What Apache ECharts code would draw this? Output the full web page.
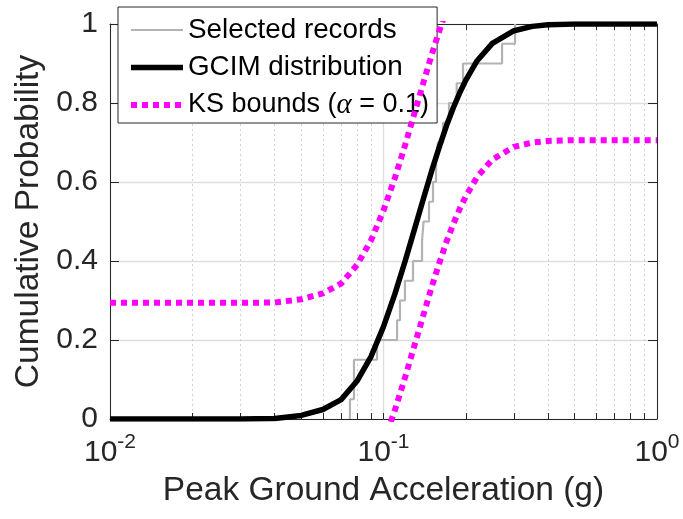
<!DOCTYPE html>
<html><head><meta charset="utf-8">
<script src="https://cdn.jsdelivr.net/npm/echarts@6/dist/echarts.min.js"></script>
<style>html,body{margin:0;padding:0;background:#fff}#c{width:683px;height:519px}</style>
</head><body><div id="c"></div>
<script>
// ---- data ----
const gcimX = [0.01,0.02,0.03,0.04,0.05,0.06,0.07,0.08,0.09,0.10,0.11,0.12,0.13,0.14,0.15,0.16,0.17,0.18,0.19,0.20,0.22,0.25,0.30,0.35,0.40,0.50,0.60,0.70,0.80,0.90,1.00];
const gcimY = [0,0,0.0001,0.001,0.009,0.024,0.049,0.096,0.158,0.234,0.316,0.400,0.482,0.558,0.628,0.689,0.743,0.788,0.826,0.858,0.907,0.951,0.983,0.994,0.998,0.9997,1,1,1,1,1];
const ksUpperX = [0.01,0.02,0.03,0.04,0.05,0.06,0.07,0.08,0.09,0.10,0.11,0.12,0.13,0.14,0.15,0.16,0.17];
const ksUpperY = [0.294,0.294,0.294,0.295,0.303,0.318,0.343,0.390,0.452,0.528,0.610,0.694,0.776,0.852,0.922,0.983,1.037];
const ksLowerX = [0.10,0.11,0.12,0.13,0.14,0.15,0.16,0.17,0.18,0.19,0.20,0.22,0.25,0.30,0.35,0.40,0.50,0.60,0.70,0.80,0.90,1.00];
const ksLowerY = [-0.060,0.022,0.106,0.188,0.264,0.334,0.395,0.449,0.494,0.532,0.564,0.613,0.657,0.689,0.700,0.704,0.706,0.706,0.706,0.706,0.706,0.706];
const recordPGA = [0.0754,0.078,0.078,0.0947,0.1121,0.1149,0.1198,0.1282,0.1383,0.1401,0.1467,0.1517,0.1556,0.1582,0.165,0.1736,0.1852,0.1953,0.2713,0.3027];
const xMajorTicks = [0.01,0.1,1];
const xMinorTicks = [0.01,0.02,0.03,0.04,0.05,0.06,0.07,0.08,0.09,0.1,0.2,0.3,0.4,0.5,0.6,0.7,0.8,0.9,1];
const yTicks = [0,0.2,0.4,0.6,0.8,1];
const names = ['Selected records','GCIM distribution','KS bounds (α = 0.1)'];

// ---- build ----
const zip = (a,b) => a.map((v,i)=>[v,b[i]]);
const n = recordPGA.length;
const stairs = [];
recordPGA.forEach((x,i)=>{ stairs.push([x,i/n]); stairs.push([x,(i+1)/n]); });

const FF = '"Liberation Sans", Arial, Helvetica, sans-serif';
const AX = '#262626';
const styles = [
  {color:'#b3b3b3',width:2.2,type:'solid'},
  {color:'#000000',width:5.5,type:'solid'},
  {color:'#ff00ff',width:6,type:[6,5],cap:'butt'}
];
const hidden = {color:'rgba(0,0,0,0)',borderWidth:0,opacity:0};
const chart = echarts.init(document.getElementById('c'), null, {renderer:'canvas'});
const xBase = {type:'log', logBase:10, min:0.01, max:1, gridIndex:0};
chart.setOption({
  animation:false,
  backgroundColor:'#fff',
  grid:{left:110,right:26,top:24,bottom:100,containLabel:false},
  xAxis:[
    Object.assign({}, xBase, {
      position:'bottom',
      name:'Peak Ground Acceleration (g)', nameLocation:'middle', nameGap:55,
      nameTextStyle:{fontFamily:FF,fontSize:33.5,color:AX},
      axisLine:{show:true,onZero:false,lineStyle:{color:AX,width:1}},
      axisTick:{show:true,inside:true,length:6,customValues:xMinorTicks,lineStyle:{color:AX}},
      axisLabel:{show:true,margin:13,customValues:xMajorTicks,fontFamily:FF,color:AX,
        formatter:v=>'{b|10}{s|'+Math.round(Math.log10(v))+'}',
        rich:{b:{fontFamily:FF,fontSize:30,color:AX,lineHeight:36,verticalAlign:'bottom'},
              s:{fontFamily:FF,fontSize:21,color:AX,lineHeight:36,verticalAlign:'top'}}},
      splitLine:{show:true,lineStyle:{color:'#d2d2d2',width:1,type:[2,3]}}
    }),
    Object.assign({}, xBase, {
      position:'top',
      axisLine:{show:true,onZero:false,lineStyle:{color:AX,width:1}},
      axisTick:{show:true,inside:true,length:6,customValues:xMinorTicks,lineStyle:{color:AX}},
      axisLabel:{show:false},
      splitLine:{show:false}
    }),
    Object.assign({}, xBase, {
      position:'bottom',
      axisLine:{show:false},
      axisTick:{show:false,customValues:xMajorTicks},
      axisLabel:{show:false},
      splitLine:{show:true,lineStyle:{color:'#dedede',width:1.3,type:'solid'}}
    })
  ],
  yAxis:[
    {type:'value',min:0,max:1,interval:0.2,position:'left',
      name:'Cumulative Probability',nameLocation:'middle',nameGap:61,
      nameTextStyle:{fontFamily:FF,fontSize:33.5,color:AX},
      axisLine:{show:true,onZero:false,lineStyle:{color:AX,width:1}},
      axisTick:{show:true,inside:true,length:9,lineStyle:{color:AX}},
      axisLabel:{show:true,margin:12,fontFamily:FF,fontSize:30,color:AX,
        formatter:v=>{const t=yTicks.find(k=>Math.abs(k-v)<1e-9);return t===undefined?'':String(t);}},
      splitLine:{show:true,lineStyle:{color:'#dedede',width:1.3}}
    },
    {type:'value',min:0,max:1,interval:0.2,position:'right',
      axisLine:{show:true,onZero:false,lineStyle:{color:AX,width:1}},
      axisTick:{show:true,inside:true,length:9,lineStyle:{color:AX}},
      axisLabel:{show:false},splitLine:{show:false}
    }
  ],
  legend:{
    orient:'vertical',left:118,top:7,
    itemWidth:52,itemHeight:20,itemGap:7.5,
    padding:[8,8,3,10],
    backgroundColor:'#fff',borderColor:AX,borderWidth:1,borderRadius:0,
    selectedMode:false,
    itemStyle:hidden,
    data:names.map((nm,i)=>({name:nm,itemStyle:hidden,lineStyle:styles[i]})),
    textStyle:{fontFamily:FF,fontSize:27.8,color:'#000',lineHeight:30,
      rich:{
        k:{fontFamily:FF,fontSize:27,color:'#000',lineHeight:30},
        a:{fontFamily:'"Liberation Serif", serif',fontStyle:'italic',fontSize:29,color:'#000',lineHeight:30}}},
    formatter:name=>name.indexOf('KS')===0?'{k|KS bounds (}{a|α}{k| = 0.1)}':name
  },
  series:[
    {name:names[0],type:'line',data:stairs,symbol:'none',showSymbol:false,
      lineStyle:styles[0],itemStyle:{color:'#b3b3b3'},z:2},
    {name:names[1],type:'line',data:zip(gcimX,gcimY),symbol:'none',showSymbol:false,
      lineStyle:styles[1],itemStyle:{color:'#000'},z:3},
    {name:names[2],type:'line',data:zip(ksUpperX,ksUpperY),symbol:'none',showSymbol:false,clip:true,
      lineStyle:styles[2],itemStyle:{color:'#ff00ff'},z:4},
    {name:names[2],type:'line',data:zip(ksLowerX,ksLowerY),symbol:'none',showSymbol:false,clip:true,
      lineStyle:styles[2],itemStyle:{color:'#ff00ff'},z:4}
  ]
});
</script></body></html>
